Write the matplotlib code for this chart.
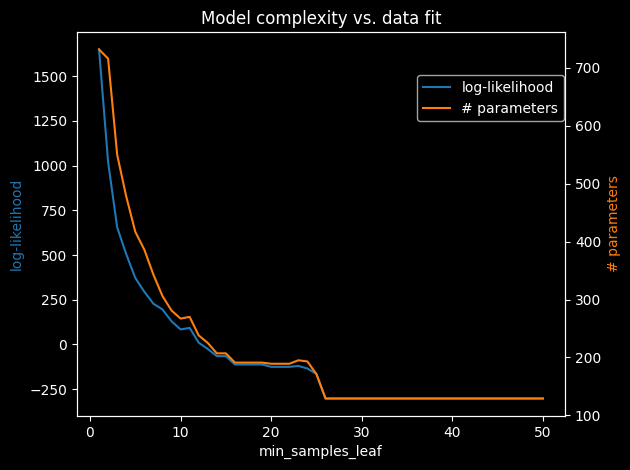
import numpy as np
import matplotlib
matplotlib.use("Agg")
from matplotlib import pyplot as plt

plt.style.use("dark_background")

min_samples_leaf = np.arange(1, 51)

# log-likelihood per min_samples_leaf
loglik = [1650, 1020, 655, 505, 372, 295, 228, 196, 130, 84,
          93, 10, -25, -65, -65, -112, -112, -112, -112, -125,
          -125, -125, -120, -134, -165] + [-302] * 25

# number of parameters
n_params = [732, 716, 550, 478, 417, 386, 343, 306, 281, 267,
            270, 238, 225, 207, 207, 191, 191, 191, 191, 189,
            189, 189, 195, 193, 171] + [129] * 25

fig, ax = plt.subplots(figsize=(6.3, 4.7), dpi=100)
l1, = ax.plot(min_samples_leaf, loglik, color="tab:blue", label="log-likelihood")
ax.set_xlabel("min_samples_leaf")
ax.set_ylabel("log-likelihood", color="tab:blue")

ax2 = ax.twinx()
l2, = ax2.plot(min_samples_leaf, n_params, color="tab:orange", label="# parameters")
ax2.set_ylabel("# parameters", color="tab:orange")

ax.set_title("Model complexity vs. data fit")
fig.subplots_adjust(left=0.122, right=0.897, top=0.932, bottom=0.115)
fig.legend(handles=[l1, l2], loc="upper right", bbox_to_anchor=(0.906, 0.855))
fig.savefig("out.png")
